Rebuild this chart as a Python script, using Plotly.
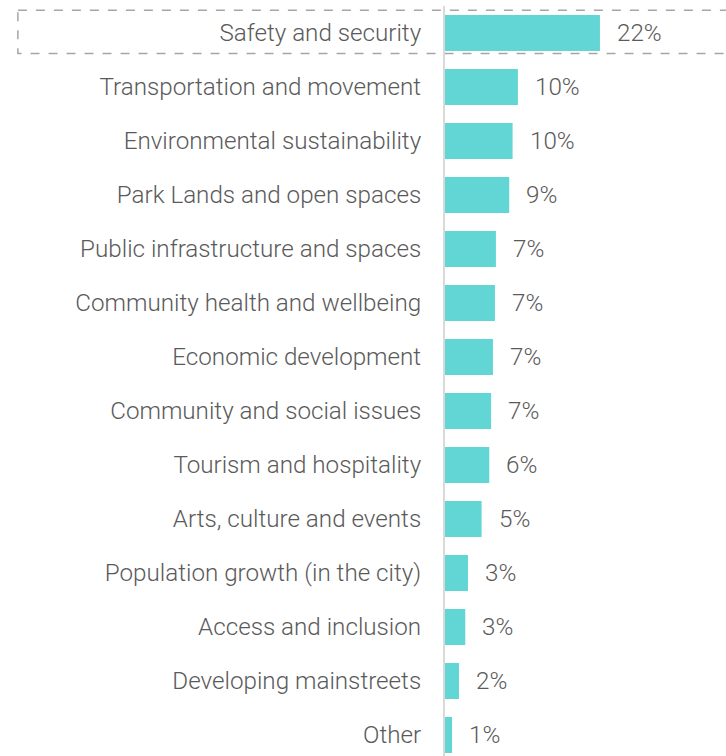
import plotly.graph_objects as go

# Share of responses by theme (percent)
themes = [
    "Safety and security",
    "Transportation and movement",
    "Environmental sustainability",
    "Park Lands and open spaces",
    "Public infrastructure and spaces",
    "Community health and wellbeing",
    "Economic development",
    "Community and social issues",
    "Tourism and hospitality",
    "Arts, culture and events",
    "Population growth (in the city)",
    "Access and inclusion",
    "Developing mainstreets",
    "Other",
]
shares = [22.0, 10.35, 9.6, 9.12, 7.23, 7.09, 6.81, 6.55, 6.29, 5.2, 3.26, 2.88, 1.99, 1.0]

BAR = "#62d6d5"
TEXT = "#5a5a5a"
FONT = "Roboto"
SIZE = 24.2

fig = go.Figure(
    go.Bar(
        x=shares,
        y=themes,
        orientation="h",
        marker=dict(color=BAR, line=dict(width=0)),
        hoverinfo="skip",
    )
)

# Percentage labels to the right of each bar
for t, v in zip(themes, shares):
    fig.add_annotation(
        x=v, y=t, text=f"{round(v)}%", showarrow=False,
        xanchor="left", yanchor="middle", xshift=15,
        font=dict(family=FONT, size=SIZE, color=TEXT, weight=300),
    )

# Dashed highlight around the top row
fig.add_shape(
    type="rect", xref="paper", yref="y",
    x0=-1.52, x1=1.1, y0=-0.42, y1=0.38,
    line=dict(color="#a6a6a6", width=1.5, dash="dash"),
    fillcolor="rgba(0,0,0,0)", layer="below",
)

fig.update_layout(
    width=726, height=756,
    margin=dict(l=445, r=0, t=6, b=0),
    paper_bgcolor="white", plot_bgcolor="white",
    bargap=1/3,
    showlegend=False,
    xaxis=dict(range=[0, 39.9], visible=False, fixedrange=True),
    yaxis=dict(
        categoryorder="array", categoryarray=themes,
        range=[13.389, -0.5],
        showline=True, linecolor="#d9d9d9", linewidth=2,
        showgrid=False, zeroline=False, ticks="",
        ticklabelstandoff=17,
        tickfont=dict(family=FONT, size=SIZE, color=TEXT, weight=300),
    ),
)

fig.write_html("out.html")
